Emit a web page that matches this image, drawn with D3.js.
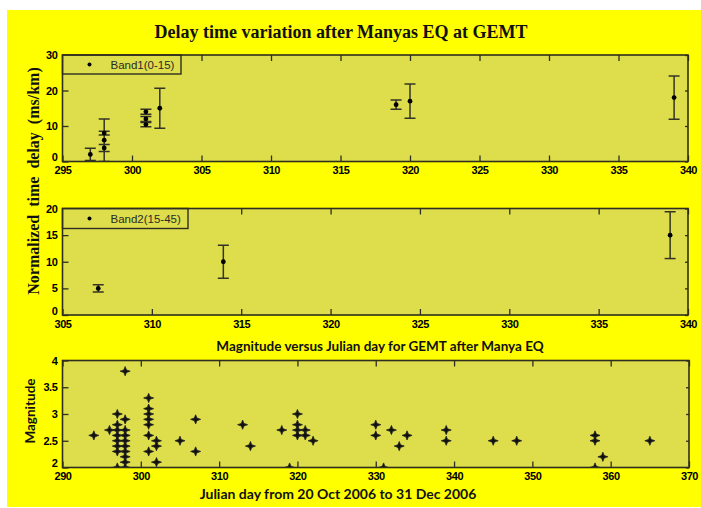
<!DOCTYPE html>
<html lang="en">
<head>
<meta charset="UTF-8">
<title>Delay time variation</title>
<style>
  body { margin: 0; background: #fff; }
  .tick text { font-family: "Liberation Sans", Arial, sans-serif; font-weight: bold; font-size: 11px; fill: #000; letter-spacing: -0.4px; }
  .tick line { stroke: #2e2e20; stroke-width: 1.3; }
</style>
</head>
<body>
<script src="https://cdnjs.cloudflare.com/ajax/libs/d3/7.8.5/d3.min.js"></script>
<script>
// band 1 (0-15 km): julian day, normalized delay, error
const band1Day   = [297, 298, 298, 298, 301, 301, 301, 302, 319, 320, 339];
const band1Delay = [2, 8, 6, 3.8, 14, 12, 10.4, 15, 16, 17, 18];
const band1Err   = [1.7, 0.5, 6, 1, 0.7, 0.7, 0.6, 5.6, 1.3, 4.8, 6.1];

// band 2 (15-45 km)
const band2Day   = [307, 314, 339];
const band2Delay = [5, 10, 15];
const band2Err   = [0.7, 3.1, 4.4];

// magnitude vs julian day
const magDay = [294, 296,
  297, 297, 297, 297, 297, 297, 297, 297,
  298, 298, 298, 298, 298, 298, 298, 298, 298, 298,
  301, 301, 301, 301, 301, 301, 301,
  302, 302, 302, 305, 307, 307, 313, 314, 318, 319,
  320, 320, 320, 320, 321, 321, 322,
  330, 330, 331, 332, 333, 334, 339, 339, 345, 348,
  358, 358, 358, 359, 365];
const magValue = [2.6, 2.7,
  3.0, 2.8, 2.7, 2.6, 2.5, 2.4, 2.3, 2.0,
  3.8, 2.9, 2.7, 2.6, 2.5, 2.4, 2.3, 2.2, 2.1, 2.0,
  3.3, 3.1, 3.0, 2.9, 2.8, 2.6, 2.3,
  2.5, 2.4, 2.1, 2.5, 2.9, 2.3, 2.8, 2.4, 2.7, 2.0,
  3.0, 2.8, 2.7, 2.6, 2.7, 2.6, 2.5,
  2.8, 2.6, 2.0, 2.7, 2.4, 2.6, 2.7, 2.5, 2.5, 2.5,
  2.6, 2.5, 2.0, 2.2, 2.5];

const topXTicks = [295, 300, 305, 310, 315, 320, 325, 330, 335, 340];
const topYTicks = [0, 10, 20, 30];
const midXTicks = [305, 310, 315, 320, 325, 330, 335, 340];
const midYTicks = [0, 5, 10, 15, 20];
const botXTicks = [290, 300, 310, 320, 330, 340, 350, 360, 370];
const botYTicks = [2, 2.5, 3, 3.5, 4];

const W = 701, H = 508;
const frameColor = "#2e2e20";
const plotFill = "#dede4c";

const svg = d3.select("body").append("svg")
  .attr("width", W).attr("height", H);

svg.append("rect").attr("x", 7).attr("y", 10).attr("width", W - 7).attr("height", 497)
  .attr("fill", "#ffff00");

function panel(id, box, xDom, yDom, xTicks, yTicks, yFmt) {
  const x = d3.scaleLinear().domain(xDom).range([box.l, box.r]);
  const y = d3.scaleLinear().domain(yDom).range([box.b, box.t]);
  const g = svg.append("g");

  g.append("rect").attr("x", box.l).attr("y", box.t)
    .attr("width", box.r - box.l).attr("height", box.b - box.t)
    .attr("fill", plotFill);

  svg.append("clipPath").attr("id", id)
    .append("rect").attr("x", box.l).attr("y", box.t)
    .attr("width", box.r - box.l).attr("height", box.b - box.t);

  g.append("g").attr("transform", "translate(0," + box.b + ")")
    .call(d3.axisBottom(x).tickValues(xTicks).tickSizeInner(-6).tickSizeOuter(0).tickPadding(5))
    .call(a => a.select(".domain").remove());
  g.append("g").attr("transform", "translate(0," + box.t + ")")
    .call(d3.axisTop(x).tickValues(xTicks).tickSizeInner(-6).tickSizeOuter(0).tickFormat(""))
    .call(a => a.select(".domain").remove());
  g.append("g").attr("transform", "translate(" + box.l + ",0)")
    .call(d3.axisLeft(y).tickValues(yTicks).tickSizeInner(-6).tickSizeOuter(0).tickPadding(5).tickFormat(yFmt))
    .call(a => a.select(".domain").remove())
    // lift the lowest label so it clears the x labels
    .call(a => a.selectAll(".tick text").filter(d => d === yDom[0]).attr("dy", "-0.05em"));
  g.append("g").attr("transform", "translate(" + box.r + ",0)")
    .call(d3.axisRight(y).tickValues(yTicks).tickSizeInner(-3).tickSizeOuter(0).tickFormat(""))
    .call(a => a.select(".domain").remove());

  const plot = svg.append("g").attr("clip-path", "url(#" + id + ")");
  return { x, y, g, plot, box };
}

function drawFrame(p) {
  svg.append("rect").attr("x", p.box.l).attr("y", p.box.t)
    .attr("width", p.box.r - p.box.l).attr("height", p.box.b - p.box.t)
    .attr("fill", "none").attr("stroke", frameColor).attr("stroke-width", 1.6);
}

function errorBars(p, days, vals, errs) {
  const data = days.map((d, i) => ({ d, v: vals[i], e: errs[i] }));
  const cap = 5.5;
  const eb = p.plot.selectAll(null).data(data).enter().append("g")
    .attr("stroke", "#333326").attr("stroke-width", 1.5);
  eb.append("line")
    .attr("x1", d => p.x(d.d)).attr("x2", d => p.x(d.d))
    .attr("y1", d => p.y(d.v - d.e)).attr("y2", d => p.y(d.v + d.e));
  eb.append("line")
    .attr("x1", d => p.x(d.d) - cap).attr("x2", d => p.x(d.d) + cap)
    .attr("y1", d => p.y(d.v + d.e)).attr("y2", d => p.y(d.v + d.e));
  eb.append("line")
    .attr("x1", d => p.x(d.d) - cap).attr("x2", d => p.x(d.d) + cap)
    .attr("y1", d => p.y(d.v - d.e)).attr("y2", d => p.y(d.v - d.e));
  p.plot.selectAll(null).data(data).enter().append("circle")
    .attr("cx", d => p.x(d.d)).attr("cy", d => p.y(d.v))
    .attr("r", 2.4).attr("fill", "#000");
}

function legend(p, w, h, label) {
  const b = p.box;
  svg.append("rect").attr("x", b.l).attr("y", b.t).attr("width", w).attr("height", h)
    .attr("fill", plotFill).attr("stroke", frameColor).attr("stroke-width", 1.4);
  svg.append("circle").attr("cx", b.l + 27).attr("cy", b.t + h / 2).attr("r", 2).attr("fill", "#000");
  svg.append("text").attr("x", b.l + 48).attr("y", b.t + h / 2 + 4)
    .attr("font-family", "Liberation Sans, Arial, sans-serif").attr("font-size", 11.5)
    .attr("fill", "#2a2a2a").text(label);
}

// top panel
const p1 = panel("clip1", { l: 62.5, r: 688, t: 55, b: 161.5 }, [295, 340], [0, 30], topXTicks, topYTicks, d3.format("d"));
errorBars(p1, band1Day, band1Delay, band1Err);
legend(p1, 118.5, 19, "Band1(0-15)");
drawFrame(p1);

// middle panel
const p2 = panel("clip2", { l: 62.5, r: 688, t: 208.5, b: 315 }, [305, 340], [0, 20], midXTicks, midYTicks, d3.format("d"));
errorBars(p2, band2Day, band2Delay, band2Err);
legend(p2, 125.5, 20, "Band2(15-45)");
drawFrame(p2);

// bottom panel
const p3 = panel("clip3", { l: 62.5, r: 689, t: 360.5, b: 467.5 }, [290, 370], [2, 4], botXTicks, botYTicks, d3.format("~g"));
const magData = magDay.map((d, i) => ({ d, m: magValue[i] }));
const star = "M-5,0L-1.3,-1.3L0,-4.6L1.3,-1.3L5,0L1.3,1.3L0,4.6L-1.3,1.3Z";
p3.plot.selectAll(null).data(magData).enter().append("path")
  .attr("transform", d => "translate(" + p3.x(d.d) + "," + p3.y(d.m) + ")")
  .attr("d", star).attr("fill", "#111").attr("stroke", "#222").attr("stroke-width", 0.8);
drawFrame(p3);

// titles and axis labels
svg.append("text").attr("x", 341).attr("y", 38).attr("text-anchor", "middle")
  .attr("font-family", "Liberation Serif, Times New Roman, serif").attr("font-weight", "bold")
  .attr("font-size", 18).attr("fill", "#111")
  .text("Delay time variation after Manyas EQ at GEMT");

svg.append("text").attr("transform", "translate(39,181) rotate(-90)").attr("text-anchor", "middle")
  .attr("font-family", "Liberation Serif, Times New Roman, serif").attr("font-weight", "bold")
  .attr("font-size", 16).attr("fill", "#111").attr("xml:space", "preserve")
  .text("Normalized  time  delay  (ms/km)");

svg.append("text").attr("x", 380).attr("y", 351).attr("text-anchor", "middle")
  .attr("font-family", "Lato, Open Sans, sans-serif").attr("font-weight", "bold")
  .attr("font-size", 13.5).attr("fill", "#111")
  .text("Magnitude versus Julian day for GEMT after Manya EQ");

svg.append("text").attr("transform", "translate(35,411) rotate(-90)").attr("text-anchor", "middle")
  .attr("font-family", "Lato, Open Sans, sans-serif").attr("font-weight", "bold")
  .attr("font-size", 13.5).attr("fill", "#111")
  .text("Magnitude");

svg.append("text").attr("x", 338).attr("y", 499).attr("text-anchor", "middle")
  .attr("font-family", "Lato, Open Sans, sans-serif").attr("font-weight", "bold")
  .attr("font-size", 14).attr("fill", "#111")
  .text("Julian day from 20 Oct 2006 to 31 Dec 2006");
</script>
</body>
</html>
